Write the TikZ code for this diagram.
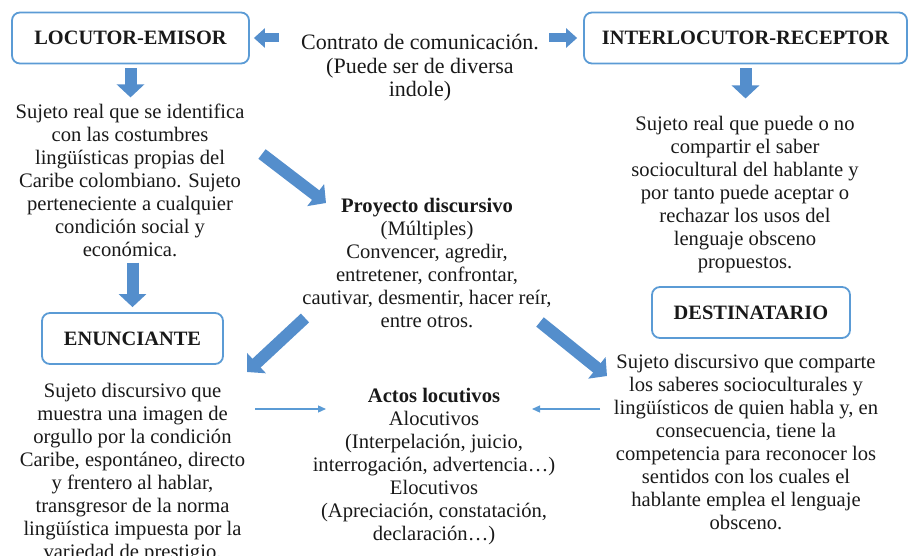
\documentclass[tikz,border=0pt]{standalone}
\usepackage{fontspec}
\setmainfont{Liberation Serif}
\usetikzlibrary{arrows.meta,positioning}
\definecolor{boxblue}{RGB}{91,155,213}
\definecolor{arrowblue}{RGB}{84,142,204}

\begin{document}
\begin{tikzpicture}[x=1pt, y=-1pt,
	every node/.style={font=\fontsize{20.6}{23}\selectfont, inner sep=0pt, align=center, text=black!90},
	rolebox/.style={rectangle, rounded corners=8pt, draw=boxblue, line width=1.8pt, minimum height=51pt, font=\fontsize{20.4}{23}\selectfont\bfseries},
	bigarrow/.style={draw=arrowblue, line width=12pt, -{Triangle[length=13pt, width=27pt]}},
	sidearrow/.style={draw=arrowblue, line width=9pt, -{Triangle[length=11pt, width=19pt]}},
	thinarrow/.style={draw=boxblue, line width=1.3pt, -{Triangle[length=8pt, width=7pt]}}]
	\useasboundingbox (0,0) rectangle (909,556);
	\node[rolebox, minimum width=237pt] (locutor) at (130.5,38) {LOCUTOR-EMISOR};
	\node[rolebox, minimum width=323pt] (interlocutor) at (745.5,38) {INTERLOCUTOR-RECEPTOR};
	\node[font=\fontsize{22}{23.5}\selectfont] (contrato) at (420,68) {Contrato de comunicación.\\(Puede ser de diversa\\indole)};
	\node (sujetoreal) at (130,180) {Sujeto real que se identifica\\con las costumbres\\lingüísticas propias del\\Caribe colombiano. Sujeto\\perteneciente a cualquier\\condición social y\\económica.};
	\node (sujetopuede) at (745,195) {Sujeto real que puede o no\\compartir el saber\\sociocultural del hablante y\\por tanto puede aceptar o\\rechazar los usos del\\lenguaje obsceno\\propuestos.};
	\node (proyecto) at (427,263) {\textbf{Proyecto discursivo}\\(Múltiples)\\Convencer, agredir,\\entretener, confrontar,\\cautivar, desmentir, hacer reír,\\entre otros.};
	\node[rolebox, minimum width=181pt] (enunciante) at (132.5,338.5) {ENUNCIANTE};
	\node[rolebox, minimum width=198pt] (destinatario) at (751,312.5) {DESTINATARIO};
	\node (sujetodisc) at (132.5,473) {Sujeto discursivo que\\muestra una imagen de\\orgullo por la condición\\Caribe, espontáneo, directo\\y frentero al hablar,\\transgresor de la norma\\lingüística impuesta por la\\variedad de prestigio.};
	\node (actos) at (434,467) {\textbf{Actos locutivos}\\Alocutivos\\(Interpelación, juicio,\\interrogación, advertencia…)\\Elocutivos\\(Apreciación, constatación,\\declaración…)};
	\node (sujetocomparte) at (746,442) {Sujeto discursivo que comparte\\los saberes socioculturales y\\lingüísticos de quien habla y, en\\consecuencia, tiene la\\competencia para reconocer los\\sentidos con los cuales el\\hablante emplea el lenguaje\\obsceno.};
	% free ends of the diagonal and thin arrows
	\coordinate (emisor-out) at (262,154);
	\coordinate (proyecto-in) at (326,203);
	\coordinate (proyecto-outl) at (305,318);
	\coordinate (enunciante-in) at (247,372);
	\coordinate (proyecto-outr) at (540,322);
	\coordinate (destinatario-in) at (607,376);
	\coordinate (enunciante-out) at (255,409);
	\coordinate (actos-inl) at (326,409);
	\coordinate (destinatario-out) at (600,409);
	\coordinate (actos-inr) at (532,409);
	\draw[sidearrow, shorten <=22pt, shorten >=4pt] (contrato.west |- locutor.east) -- (locutor.east);
	\draw[sidearrow, shorten <=10pt, shorten >=6pt] (contrato.east |- interlocutor.west) -- (interlocutor.west);
	\draw[bigarrow, shorten <=4pt, shorten >=6pt] (locutor.south) -- (locutor.south |- sujetoreal.north);
	\draw[bigarrow, shorten <=4pt, shorten >=18pt] (interlocutor.south) -- (interlocutor.south |- sujetopuede.north);
	\draw[bigarrow, shorten <=6pt, shorten >=5pt] (enunciante.north |- sujetoreal.south) -- (enunciante.north);
	\draw[bigarrow] (emisor-out) -- (proyecto-in);
	\draw[bigarrow] (proyecto-outl) -- (enunciante-in);
	\draw[bigarrow] (proyecto-outr) -- (destinatario-in);
	\draw[thinarrow] (enunciante-out) -- (actos-inl);
	\draw[thinarrow] (destinatario-out) -- (actos-inr);
\end{tikzpicture}
\end{document}
